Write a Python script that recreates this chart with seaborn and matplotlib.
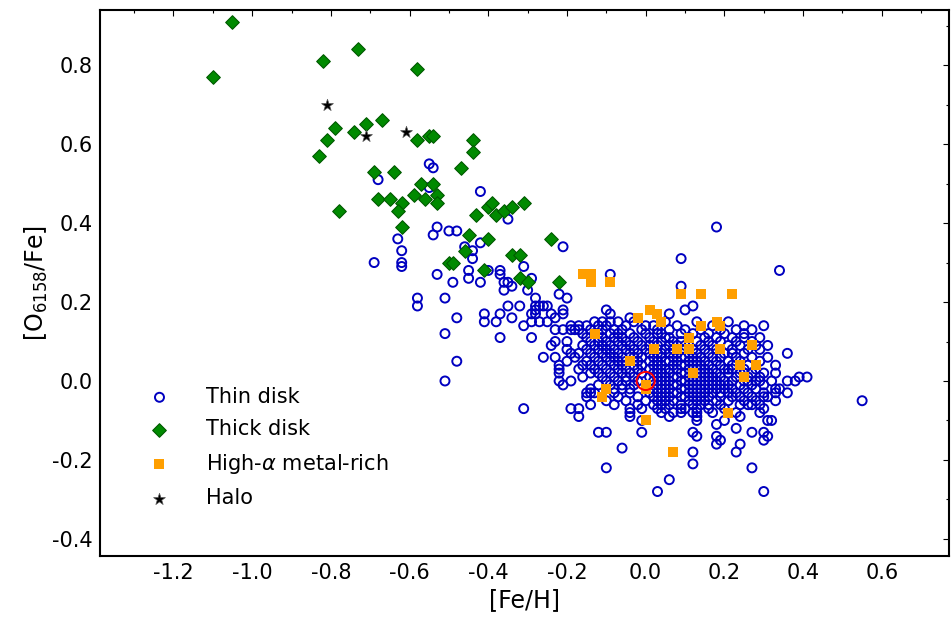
import matplotlib
matplotlib.use("Agg")
import matplotlib.pyplot as plt
import pandas as pd
import seaborn as sns
from matplotlib.ticker import MultipleLocator

sns.set_theme(style="white")
plt.rcParams['font.family'] = ['DejaVu Sans']
plt.rcParams['mathtext.fontset'] = 'dejavusans'
plt.rcParams['axes.unicode_minus'] = False
plt.rcParams['text.color'] = 'black'
plt.rcParams['axes.labelcolor'] = 'black'
plt.rcParams['xtick.color'] = 'black'
plt.rcParams['ytick.color'] = 'black'

# thin disk, upper (metal-poor) branch: ([Fe/H], [O/Fe])
thin_upper = [
    (-0.55, 0.55), (-0.54, 0.54), (-0.68, 0.51), (-0.55, 0.49), (-0.42, 0.48),
    (-0.35, 0.41), (-0.53, 0.39), (-0.54, 0.37), (-0.50, 0.38), (-0.48, 0.38),
    (-0.63, 0.36), (-0.42, 0.35), (-0.46, 0.34), (-0.44, 0.33), (-0.44, 0.31),
    (-0.21, 0.34), (-0.62, 0.33), (-0.62, 0.30), (-0.62, 0.29), (-0.69, 0.30),
    (-0.31, 0.29), (-0.53, 0.27), (-0.49, 0.25), (-0.45, 0.28), (-0.45, 0.26),
    (-0.42, 0.25), (-0.40, 0.28), (-0.37, 0.28), (-0.37, 0.27), (-0.36, 0.25),
    (-0.35, 0.25), (-0.36, 0.23), (-0.34, 0.24), (-0.29, 0.26), (-0.30, 0.23),
    (-0.22, 0.22), (-0.20, 0.21), (-0.58, 0.21), (-0.58, 0.19), (-0.51, 0.21),
    (-0.48, 0.16), (-0.51, 0.12), (-0.48, 0.05), (-0.51, 0.00), (-0.35, 0.19),
    (-0.32, 0.19), (-0.28, 0.21), (-0.28, 0.19), (-0.27, 0.19), (-0.25, 0.19),
    (-0.26, 0.19), (-0.28, 0.18), (-0.28, 0.17), (-0.29, 0.17), (-0.41, 0.17),
    (-0.37, 0.17), (-0.41, 0.15), (-0.38, 0.15), (-0.34, 0.16), (-0.31, 0.14),
    (-0.29, 0.15), (-0.27, 0.15), (-0.25, 0.15), (-0.24, 0.17), (-0.23, 0.16),
    (-0.21, 0.17), (-0.21, 0.18), (-0.37, 0.11), (-0.29, 0.11), (-0.23, 0.13),
    (-0.21, 0.13), (-0.19, 0.13), (-0.18, 0.13), (-0.17, 0.13), (-0.19, 0.14),
    (-0.17, 0.14), (-0.15, 0.14), (-0.13, 0.15), (-0.24, 0.09), (-0.26, 0.06),
    (-0.23, 0.10), (-0.20, 0.10), (-0.23, 0.06), (-0.20, 0.08), (-0.19, 0.07),
    (-0.18, 0.06), (-0.17, 0.07), (-0.22, 0.04), (-0.22, 0.03), (-0.22, 0.02),
    (-0.22, 0.00), (-0.20, 0.05), (-0.19, 0.00), (-0.21, -0.01), (-0.16, 0.01),
    (-0.17, 0.03), (-0.16, 0.04), (-0.15, 0.05), (-0.14, 0.02), (-0.13, 0.03),
    (-0.15, -0.03), (-0.14, -0.03), (-0.31, -0.07),
    (0.18, 0.39), (0.09, 0.31), (0.34, 0.28), (-0.09, 0.27), (0.09, 0.24),
    (0.10, 0.18), (0.12, 0.19), (-0.10, 0.18), (-0.09, 0.17), (-0.04, 0.16),
    (0.06, 0.17), (0.30, 0.14),
]

# thin disk, dense solar-metallicity core: [O/Fe] row -> [Fe/H] values
thin_core_rows = {
    0.15: [-0.11, -0.09, -0.07, -0.03, 0.05, 0.13, 0.21],
    0.14: [-0.12, -0.10, -0.05, 0.00, 0.02, 0.08, 0.17, 0.25],
    0.13: [-0.14, -0.11, -0.08, -0.06, -0.01, 0.03, 0.06, 0.10, 0.14, 0.19, 0.23, 0.27],
    0.12: [-0.16, -0.13, -0.12, -0.09, -0.07, -0.04, 0.00, 0.03, 0.04, 0.09, 0.12, 0.16, 0.20, 0.25],
    0.11: [-0.15, -0.11, -0.08, -0.06, -0.03, 0.01, 0.05, 0.06, 0.11, 0.15, 0.18, 0.22, 0.25, 0.29],
    0.10: [-0.14, -0.12, -0.10, -0.07, -0.05, -0.02, 0.02, 0.04, 0.07, 0.09, 0.13, 0.16, 0.19, 0.23, 0.27],
    0.09: [-0.16, -0.13, -0.11, -0.09, -0.06, -0.04, -0.01, 0.01, 0.03, 0.06, 0.08, 0.10, 0.14, 0.17,
           0.21, 0.24, 0.28, 0.31],
    0.08: [-0.15, -0.12, -0.10, -0.08, -0.05, -0.03, 0.00, 0.02, 0.05, 0.07, 0.09, 0.12, 0.15, 0.18,
           0.22, 0.26, 0.29],
    0.07: [-0.14, -0.11, -0.09, -0.07, -0.04, -0.02, 0.01, 0.03, 0.04, 0.06, 0.08, 0.11, 0.13, 0.16,
           0.20, 0.22, 0.25, 0.36],
    0.06: [-0.13, -0.10, -0.08, -0.06, -0.03, -0.01, 0.02, 0.04, 0.07, 0.09, 0.10, 0.12, 0.14, 0.17,
           0.19, 0.23, 0.27, 0.31],
    0.05: [-0.12, -0.09, -0.07, -0.05, -0.02, 0.01, 0.03, 0.05, 0.06, 0.08, 0.11, 0.13, 0.15, 0.18,
           0.21, 0.24, 0.29],
    0.04: [-0.14, -0.11, -0.08, -0.06, -0.03, -0.01, 0.02, 0.04, 0.07, 0.09, 0.10, 0.12, 0.14, 0.16,
           0.19, 0.22, 0.26, 0.33],
    0.03: [-0.10, -0.07, -0.05, -0.02, 0.01, 0.03, 0.05, 0.06, 0.08, 0.11, 0.13, 0.15, 0.17, 0.20,
           0.21, 0.22, 0.25, 0.28],
    0.02: [-0.12, -0.09, -0.06, -0.04, -0.01, 0.02, 0.04, 0.06, 0.09, 0.10, 0.12, 0.14, 0.16, 0.18,
           0.21, 0.24, 0.25, 0.27, 0.30, 0.33],
    0.01: [-0.11, -0.08, -0.05, -0.03, 0.01, 0.03, 0.05, 0.07, 0.08, 0.11, 0.13, 0.15, 0.17, 0.19,
           0.23, 0.26, 0.29, 0.39, 0.41],
    0.00: [-0.10, -0.07, -0.05, -0.02, 0.02, 0.04, 0.06, 0.09, 0.10, 0.12, 0.14, 0.16, 0.18, 0.20,
           0.22, 0.25, 0.26, 0.28, 0.29, 0.32, 0.36, 0.38],
    -0.01: [-0.12, -0.09, -0.06, -0.03, 0.03, 0.05, 0.07, 0.08, 0.11, 0.13, 0.15, 0.17, 0.19, 0.21,
            0.24, 0.27, 0.30],
    -0.02: [-0.14, -0.08, -0.06, -0.04, 0.02, 0.04, 0.06, 0.09, 0.10, 0.12, 0.14, 0.16, 0.18, 0.20,
            0.22, 0.25, 0.28, 0.33, 0.34],
    -0.03: [-0.13, -0.08, -0.04, 0.01, 0.03, 0.05, 0.07, 0.08, 0.11, 0.13, 0.15, 0.17, 0.19, 0.21,
            0.23, 0.26, 0.30, 0.33, 0.36],
    -0.04: [-0.15, -0.07, -0.02, 0.02, 0.04, 0.06, 0.09, 0.10, 0.12, 0.14, 0.16, 0.19, 0.22, 0.24,
            0.27, 0.30, 0.31],
    -0.05: [-0.10, -0.05, 0.00, 0.03, 0.05, 0.07, 0.11, 0.13, 0.15, 0.18, 0.21, 0.25, 0.28, 0.33],
    -0.06: [-0.14, -0.08, -0.02, 0.02, 0.04, 0.06, 0.09, 0.12, 0.14, 0.16, 0.19, 0.24, 0.26, 0.27, 0.29],
    -0.07: [-0.19, -0.17, -0.04, -0.01, 0.03, 0.05, 0.09, 0.10, 0.13, 0.16, 0.20, 0.30],
    -0.08: [-0.04, 0.04, 0.07, 0.09, 0.12, 0.13, 0.17, 0.23, 0.29],
}

# thin disk, sparse low-[O/Fe] tail
thin_low = [
    (-0.17, -0.09), (-0.04, -0.09), (0.06, -0.09), (0.13, -0.09), (0.24, -0.09),
    (-0.01, -0.10), (0.13, -0.10), (0.20, -0.10), (0.31, -0.10), (0.32, -0.10),
    (0.18, -0.11), (0.23, -0.12), (-0.12, -0.13), (-0.10, -0.13), (-0.01, -0.13),
    (0.12, -0.13), (0.27, -0.13), (0.30, -0.13), (0.13, -0.14), (0.18, -0.14),
    (0.31, -0.14), (0.19, -0.15), (0.30, -0.15), (0.18, -0.16), (0.24, -0.16),
    (-0.06, -0.17), (0.12, -0.18), (0.23, -0.18), (0.12, -0.21), (-0.10, -0.22),
    (0.27, -0.22), (0.06, -0.25), (0.03, -0.28), (0.30, -0.28), (0.55, -0.05),
]

thick_disk = [
    (-1.10, 0.77), (-1.05, 0.91), (-0.82, 0.81), (-0.73, 0.84), (-0.58, 0.79),
    (-0.79, 0.64), (-0.81, 0.61), (-0.83, 0.57), (-0.74, 0.63), (-0.71, 0.65),
    (-0.67, 0.66), (-0.58, 0.61), (-0.55, 0.62), (-0.54, 0.62), (-0.44, 0.61),
    (-0.44, 0.58), (-0.47, 0.54), (-0.69, 0.53), (-0.64, 0.53), (-0.57, 0.50),
    (-0.54, 0.50), (-0.68, 0.46), (-0.65, 0.46), (-0.62, 0.45), (-0.63, 0.43),
    (-0.59, 0.47), (-0.56, 0.46), (-0.53, 0.47), (-0.53, 0.45), (-0.78, 0.43),
    (-0.62, 0.39), (-0.40, 0.44), (-0.39, 0.45), (-0.43, 0.42), (-0.38, 0.42),
    (-0.36, 0.43), (-0.34, 0.44), (-0.31, 0.45), (-0.45, 0.37), (-0.40, 0.36),
    (-0.46, 0.33), (-0.50, 0.30), (-0.49, 0.30), (-0.24, 0.36), (-0.34, 0.32),
    (-0.32, 0.32), (-0.41, 0.28), (-0.32, 0.26), (-0.30, 0.25), (-0.22, 0.25),
]

high_alpha = [
    (-0.16, 0.27), (-0.14, 0.27), (-0.14, 0.25), (-0.09, 0.25), (0.09, 0.22),
    (0.14, 0.22), (0.22, 0.22), (-0.02, 0.16), (0.01, 0.18), (0.03, 0.17),
    (0.04, 0.15), (0.14, 0.14), (0.18, 0.15), (0.19, 0.14), (-0.13, 0.12),
    (0.11, 0.11), (0.02, 0.08), (0.08, 0.08), (0.11, 0.08), (0.19, 0.08),
    (0.27, 0.09), (-0.04, 0.05), (0.24, 0.04), (0.28, 0.04), (0.12, 0.02),
    (0.25, 0.01), (0.00, -0.01), (0.00, -0.02), (-0.10, -0.02), (-0.11, -0.04),
    (0.21, -0.08), (0.00, -0.10), (0.07, -0.18),
]

halo = [(-0.81, 0.70), (-0.71, 0.62), (-0.61, 0.63)]

sun = [(0.0, 0.0)]

thin_disk = thin_upper + [(x, y) for y, xs in thin_core_rows.items() for x in xs] + thin_low


def frame(points):
    return pd.DataFrame(points, columns=["feh", "ofe"])


fig = plt.figure(figsize=(9.51, 6.19), dpi=100)
ax = fig.add_axes([0.105, 0.102, 0.893, 0.882])

sns.scatterplot(data=frame(thin_disk), x="feh", y="ofe", ax=ax, marker="o", s=42,
                color="#0000c0", facecolor="none", edgecolor="#0000c0", linewidth=1.4,
                label="Thin disk", zorder=2)
sns.scatterplot(data=frame(thick_disk), x="feh", y="ofe", ax=ax, marker="D", s=48,
                color="#008a00", edgecolor="#005a00", linewidth=0.8,
                label="Thick disk", zorder=3)
sns.scatterplot(data=frame(high_alpha), x="feh", y="ofe", ax=ax, marker="s", s=52,
                color="#ff9f00", edgecolor="#ff9f00", linewidth=0,
                label=r"High-$\alpha$ metal-rich", zorder=4)
sns.scatterplot(data=frame(halo), x="feh", y="ofe", ax=ax, marker="*", s=80,
                color="black", edgecolor="#555555", linewidth=0.5,
                label="Halo", zorder=5)
sns.scatterplot(data=frame(sun), x="feh", y="ofe", ax=ax, marker="o", s=170,
                color="red", facecolor="none", edgecolor="red", linewidth=1.4,
                legend=False, zorder=6)

ax.set_xlim(-1.387, 0.771)
ax.set_ylim(-0.443, 0.94)
ax.xaxis.set_major_locator(MultipleLocator(0.2))
ax.xaxis.set_minor_locator(MultipleLocator(0.1))
ax.yaxis.set_major_locator(MultipleLocator(0.2))
ax.yaxis.set_minor_locator(MultipleLocator(0.1))
ax.tick_params(which="both", direction="in", top=True, right=True, labelsize=15,
               colors="black", width=0.8)
ax.tick_params(which="major", length=4.5, pad=5)
ax.tick_params(which="minor", length=2.3)
for sp in ax.spines.values():
    sp.set_linewidth(1.5)
    sp.set_color("black")

ax.set_xlabel("[Fe/H]", fontsize=17, labelpad=4)
ax.set_ylabel(r"[O$_{6158}$/Fe]", fontsize=17, labelpad=2)

ax.legend(loc="upper left", bbox_to_anchor=(0.042, 0.325), frameon=False, fontsize=15,
          handlelength=1.5, handletextpad=1.5, borderaxespad=0, labelspacing=0.6)

fig.savefig("out.png", dpi=100)
